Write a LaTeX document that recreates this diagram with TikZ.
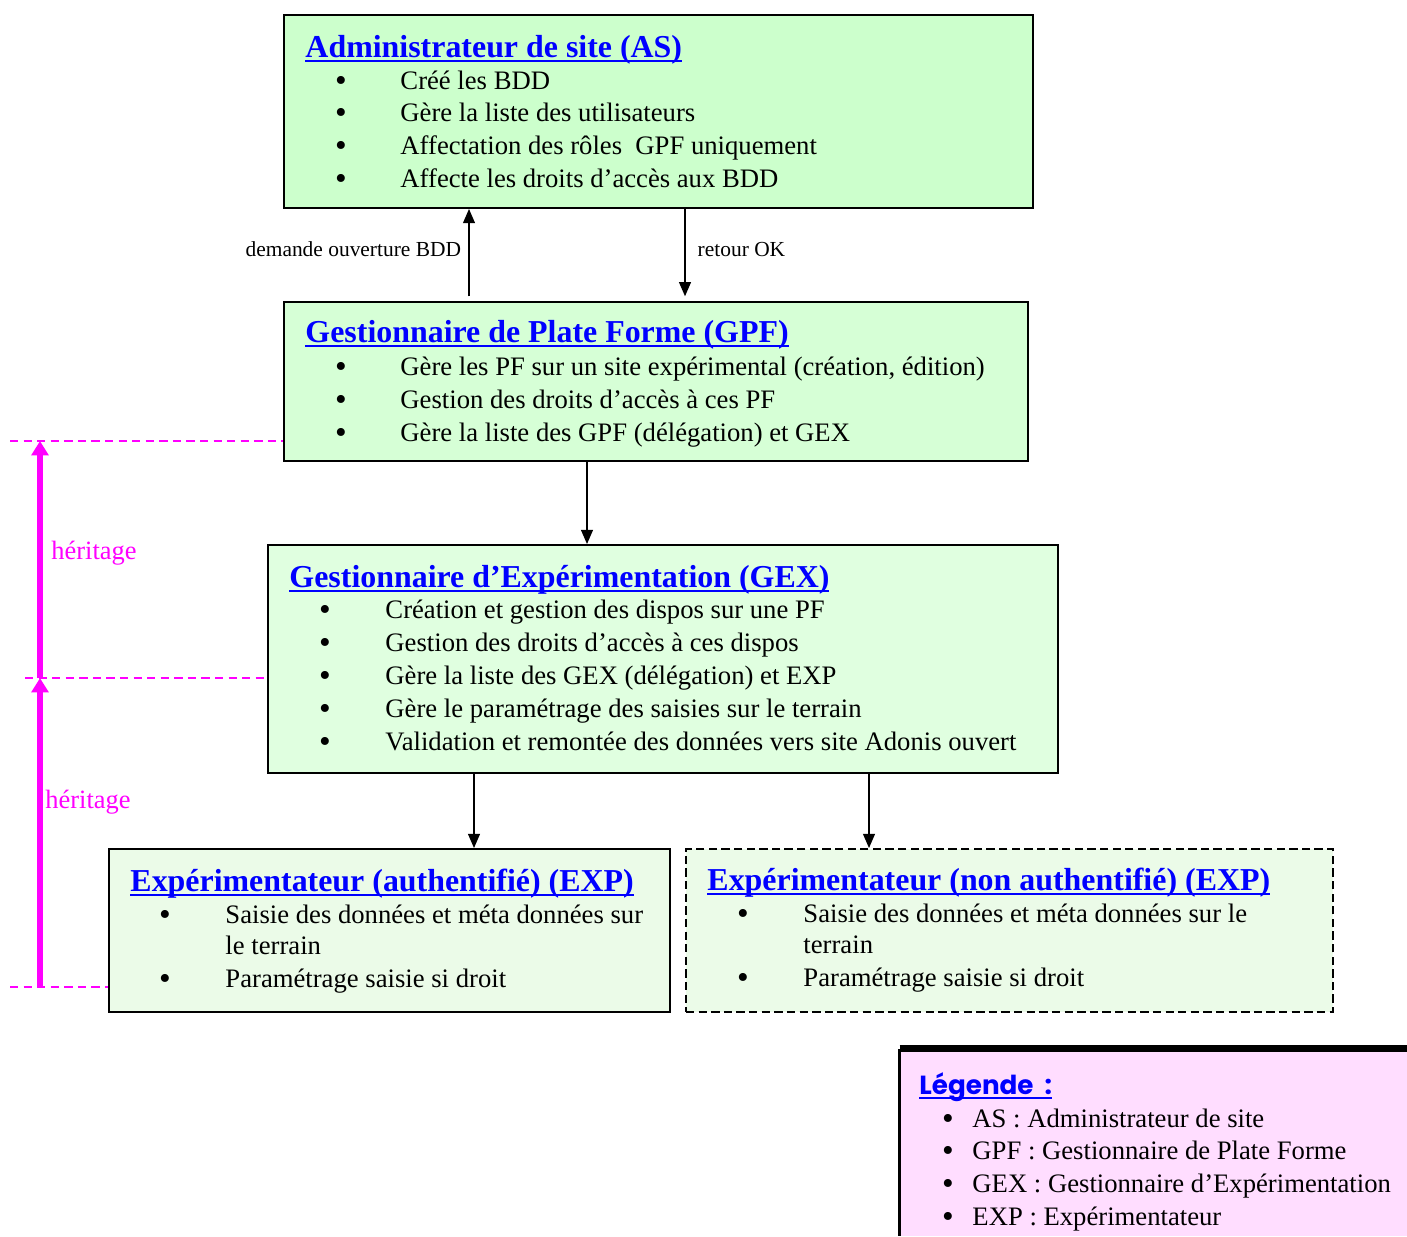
\documentclass[tikz,border=0pt]{standalone}
\usepackage{fontspec}
\setmainfont{Liberation Serif}
\newfontfamily\legendefont{Poppins}
\usetikzlibrary{arrows.meta, fit}

\definecolor{asfond}{HTML}{CCFFCC}
\definecolor{gpffond}{HTML}{D6FFD6}
\definecolor{gexfond}{HTML}{E0FFE0}
\definecolor{expfond}{HTML}{EBFBE8}
\definecolor{legfond}{HTML}{FFDDFF}
\definecolor{titrebleu}{HTML}{0000FF}
\definecolor{rose}{HTML}{FF00FF}

\newsavebox{\titrebox}
\newcommand{\souligne}[1]{\sbox{\titrebox}{#1}\rlap{\rule[-2.2pt]{\wd\titrebox}{1.1pt}}\usebox{\titrebox}}
\newcommand{\titre}[1]{\textcolor{titrebleu}{\souligne{#1}}}

\tikzset{
    boite/.style={draw=black, line width=0.8pt, inner sep=0pt},
    titre/.style={anchor=base west, inner sep=0pt, font=\bfseries\fontsize{13.4}{16}\selectfont},
    puce/.style={anchor=base, inner sep=0pt, yshift=-1.1pt, font=\fontsize{14}{14}\selectfont},
    item/.style={anchor=base west, inner sep=0pt, font=\fontsize{11.2}{14}\selectfont},
    fleche/.style={-{Triangle[length=6pt, width=5pt]}, line width=0.7pt},
    herit/.style={rose, line width=2.2pt, -{Triangle[length=6pt, width=7pt]}},
    pointille/.style={rose, line width=0.6pt, dash pattern=on 3.5pt off 2.2pt},
}

\begin{document}
\begin{tikzpicture}[x=0.42pt, y=-0.42pt]

    \useasboundingbox (0,0) rectangle (1407,1236);

    % ==========================================
    % 1. BOXES
    % ==========================================
    \node[boite, fill=asfond, fit={(284,15) (1033,208)}] (as) {};
    \node[boite, fill=gpffond, fit={(284,302) (1028,461)}] (gpf) {};
    \node[boite, fill=gexfond, fit={(268,545) (1058,773)}] (gex) {};
    \node[boite, fill=expfond, fit={(109,849) (670,1012)}] (exp) {};
    \node[boite, fill=expfond, dash pattern=on 3.5pt off 1.8pt, fit={(686,849) (1333,1012)}] (expna) {};

    % ==========================================
    % 2. ADMINISTRATEUR DE SITE
    % ==========================================
    \node[titre] at (305,57) {\titre{Administrateur de site (AS)}};
    \node[puce] at (341,89) {\textbullet};
    \node[item] at (400,89) {Créé les BDD};
    \node[puce] at (341,121) {\textbullet};
    \node[item] at (400,121) {Gère la liste des utilisateurs};
    \node[puce] at (341,154) {\textbullet};
    \node[item] at (400,154) {Affectation des rôles~ GPF uniquement};
    \node[puce] at (341,187) {\textbullet};
    \node[item] at (400,187) {Affecte les droits d’accès aux BDD};

    % ==========================================
    % 3. GESTIONNAIRE DE PLATE FORME
    % ==========================================
    \node[titre] at (305,342) {\titre{Gestionnaire de Plate Forme (GPF)}};
    \node[puce] at (341,375) {\textbullet};
    \node[item] at (400,375) {Gère les PF sur un site expérimental (création, édition)};
    \node[puce] at (341,408) {\textbullet};
    \node[item] at (400,408) {Gestion des droits d’accès à ces PF};
    \node[puce] at (341,441) {\textbullet};
    \node[item] at (400,441) {Gère la liste des GPF (délégation) et GEX};

    % ==========================================
    % 4. GESTIONNAIRE D'EXPERIMENTATION
    % ==========================================
    \node[titre] at (289,587) {\titre{Gestionnaire d’Expérimentation (GEX)}};
    \node[puce] at (325,618) {\textbullet};
    \node[item] at (385,618) {Création et gestion des dispos sur une PF};
    \node[puce] at (325,651) {\textbullet};
    \node[item] at (385,651) {Gestion des droits d’accès à ces dispos};
    \node[puce] at (325,684) {\textbullet};
    \node[item] at (385,684) {Gère la liste des GEX (délégation) et EXP};
    \node[puce] at (325,717) {\textbullet};
    \node[item] at (385,717) {Gère le paramétrage des saisies sur le terrain};
    \node[puce] at (325,750) {\textbullet};
    \node[item] at (385,750) {Validation et remontée des données vers site Adonis ouvert};

    % ==========================================
    % 5. EXPERIMENTATEURS
    % ==========================================
    \node[titre] at (130,891) {\titre{Expérimentateur (authentifié) (EXP)}};
    \node[puce] at (165,923) {\textbullet};
    \node[item] at (225,923) {Saisie des données et méta données sur};
    \node[item] at (225,954) {le terrain};
    \node[puce] at (165,987) {\textbullet};
    \node[item] at (225,987) {Paramétrage saisie si droit};

    \node[titre] at (707,890) {\titre{Expérimentateur (non authentifié) (EXP)}};
    \node[puce] at (743,922) {\textbullet};
    \node[item] at (803,922) {Saisie des données et méta données sur le};
    \node[item] at (803,953) {terrain};
    \node[puce] at (743,986) {\textbullet};
    \node[item] at (803,986) {Paramétrage saisie si droit};

    % ==========================================
    % 6. CONNECTORS
    % ==========================================
    \draw[fleche] ([yshift=2pt]gpf.north -| 469,0) -- (as.south -| 469,0)
        node[midway, left, font=\fontsize{9}{11}\selectfont, inner sep=3pt, yshift=1.5pt] {demande ouverture BDD};
    \draw[fleche] (as.south -| 685,0) -- ([yshift=2pt]gpf.north -| 685,0)
        node[midway, right, font=\fontsize{9}{11}\selectfont, inner sep=5pt, yshift=1.5pt] {retour OK};
    \draw[fleche] (gpf.south -| 587,0) -- (gex.north -| 587,0);
    \draw[fleche] (gex.south -| 474,0) -- (exp.north -| 474,0);
    \draw[fleche] (gex.south -| 869,0) -- (expna.north -| 869,0);

    % ==========================================
    % 7. HERITAGE
    % ==========================================
    \coordinate (h1) at (40,441);
    \coordinate (h2) at (40,678);
    \coordinate (h3) at (40,987);
    \draw[pointille] (10,441) -- (gpf.west |- h1);
    \draw[pointille] (25,678) -- (gex.west |- h2);
    \draw[pointille] (10,987) -- (exp.west |- h3);
    \draw[herit] (h3) -- (h2);
    \draw[herit] (h2) -- (h1);
    \node[anchor=base west, text=rose, inner sep=0pt, font=\fontsize{11.1}{14}\selectfont] at (51,559) {héritage};
    \node[anchor=base west, text=rose, inner sep=0pt, font=\fontsize{11.1}{14}\selectfont] at (45,808) {héritage};

    % ==========================================
    % 8. LEGENDE
    % ==========================================
    \node[fill=legfond, inner sep=0pt, fit={(900,1049) (1407,1236)}] (legende) {};
    \draw[line width=2.6pt] (legende.north west) -- (legende.north east);
    \draw[line width=0.9pt] (legende.north west) -- (legende.south west);
    \node[anchor=base west, inner sep=0pt, text=titrebleu, font=\legendefont\bfseries\fontsize{11}{14}\selectfont] at (919,1094) {\souligne{Légende~ :}};
    \node[puce] at (948,1127) {\textbullet};
    \node[item] at (972,1127) {AS : Administrateur de site};
    \node[puce] at (948,1159) {\textbullet};
    \node[item] at (972,1159) {GPF : Gestionnaire de Plate Forme};
    \node[puce] at (948,1192) {\textbullet};
    \node[item] at (972,1192) {GEX : Gestionnaire d’Expérimentation};
    \node[puce] at (948,1225) {\textbullet};
    \node[item] at (972,1225) {EXP : Expérimentateur};

\end{tikzpicture}
\end{document}
